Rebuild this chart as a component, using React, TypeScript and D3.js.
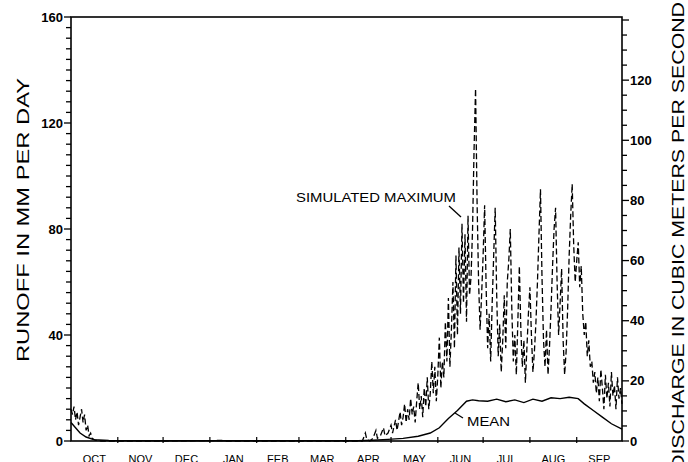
import React, { useEffect, useRef } from "react";
import * as d3 from "d3";

// water year, day index 0 = Oct 1
const months = ["OCT", "NOV", "DEC", "JAN", "FEB", "MAR", "APR", "MAY", "JUN", "JUL", "AUG", "SEP"];
const monthStarts = [0, 31, 61, 92, 123, 151, 182, 212, 243, 273, 304, 335, 365];

const leftTicks = [0, 40, 80, 120, 160];
const rightTicks = [0, 20, 40, 60, 80, 100, 120];

// mean daily runoff, mm/day  [day, value]
const meanSeries: [number, number][] = [
  [0, 7], [3, 5], [6, 3], [10, 1.5], [15, 0.5], [25, 0.2], [40, 0.1], [190, 0.1],
  [200, 0.3], [210, 0.6], [220, 1], [230, 1.8], [238, 3], [244, 5], [250, 8.5],
  [256, 11.5], [262, 15], [266, 15.5], [270, 15.2], [276, 15], [282, 15.8], [288, 14.8],
  [294, 15.5], [300, 14.5], [306, 15.8], [312, 15], [318, 16.3], [324, 16], [330, 16.5],
  [336, 16], [340, 14], [346, 11.5], [352, 9], [358, 6.5], [365, 4.5],
];

// simulated maximum daily runoff, mm/day  [day, value]
const maxSeries: [number, number][] = [
  [0, 12], [1, 10], [2, 13], [3, 8], [4, 11], [5, 6], [6, 9], [7, 12], [8, 7], [9, 10],
  [10, 4], [11, 6], [12, 2], [13, 3], [14, 1], [16, 0.3], [20, 0], [60, 0], [100, 0.2],
  [101, 0], [185, 0], [193, 0], [195, 3], [196, 0.5], [198, 0], [200, 1], [202, 4],
  [203, 1], [205, 2], [207, 5], [208, 2], [210, 3], [212, 6], [213, 3], [215, 8],
  [216, 4], [218, 11], [219, 6], [220, 9], [221, 14], [222, 7], [223, 12], [224, 8],
  [225, 16], [226, 10], [227, 13], [228, 7], [229, 15], [230, 22], [231, 12], [232, 17],
  [233, 9], [234, 20], [235, 13], [236, 24], [237, 12], [238, 18], [239, 30],
  [240, 18], [241, 28], [242, 15], [243, 25], [244, 39], [245, 20], [246, 30], [247, 24],
  [248, 45], [249, 30], [250, 54], [251, 28], [252, 42], [253, 60], [254, 35], [255, 70],
  [256, 40], [257, 73], [258, 48], [259, 82], [260, 52], [261, 78], [262, 45], [263, 85],
  [264, 55], [265, 62], [266, 80], [267, 110], [268, 133], [269, 90], [270, 60], [271, 42],
  [272, 55], [273, 70], [274, 89], [275, 58], [276, 35], [277, 48], [278, 30], [279, 52],
  [280, 70], [281, 88], [282, 55], [283, 32], [284, 44], [285, 26], [286, 38], [287, 55],
  [288, 35], [289, 60], [290, 68], [291, 80], [292, 50], [293, 30], [294, 40], [295, 25],
  [296, 45], [297, 66], [298, 42], [299, 28], [300, 38], [301, 22], [302, 35], [303, 48],
  [304, 58], [305, 40], [306, 26], [307, 34], [308, 45], [309, 60], [310, 78], [311, 95],
  [312, 62], [313, 38], [314, 28], [315, 42], [316, 25], [317, 36], [318, 50], [319, 66],
  [320, 80], [321, 88], [322, 60], [323, 40], [324, 52], [325, 65], [326, 38], [327, 25],
  [328, 34], [329, 50], [330, 70], [331, 85], [332, 97], [333, 74], [334, 60], [335, 68],
  [336, 75], [337, 58], [338, 66], [339, 48], [340, 40], [341, 45], [342, 32], [343, 38],
  [344, 28], [345, 30], [346, 22], [347, 26], [348, 18], [349, 24], [350, 15], [351, 27],
  [352, 20], [353, 12], [354, 25], [355, 16], [356, 22], [357, 13], [358, 26], [359, 17],
  [360, 21], [361, 12], [362, 24], [363, 16], [364, 20], [365, 14],
];

const W = 688;
const H = 462;

const App: React.FC = () => {
  const ref = useRef<SVGSVGElement | null>(null);

  useEffect(() => {
    const svg = d3.select(ref.current);
    svg.selectAll("*").remove();

    const x = d3.scaleLinear().domain([0, 365]).range([71, 622]);
    const yL = d3.scaleLinear().domain([0, 160]).range([441, 17]);
    const yR = d3.scaleLinear().domain([0, 141]).range([441, 17]);

    const numFont = "'Liberation Sans', Arial, sans-serif";

    // frame
    svg.append("rect")
      .attr("x", x(0)).attr("y", yL(160))
      .attr("width", x(365) - x(0)).attr("height", yL(0) - yL(160))
      .attr("fill", "none").attr("stroke", "#000").attr("stroke-width", 1.6);

    // left ticks
    const lg = svg.append("g");
    lg.selectAll("line")
      .data(d3.range(0, 161, 4))
      .enter().append("line")
      .attr("x1", x(0)).attr("x2", (d) => x(0) - (d % 40 === 0 ? 7 : 5))
      .attr("y1", (d) => yL(d)).attr("y2", (d) => yL(d))
      .attr("stroke", "#000").attr("stroke-width", 1.3);
    lg.selectAll("text")
      .data(leftTicks)
      .enter().append("text")
      .attr("x", x(0) - 8).attr("y", (d) => yL(d))
      .attr("dy", "0.35em").attr("text-anchor", "end")
      .style("font-family", numFont).style("font-weight", "bold").style("font-size", "13px")
      .text((d) => d);

    // right ticks
    const rg = svg.append("g");
    rg.selectAll("line")
      .data(d3.range(0, 141, 5))
      .enter().append("line")
      .attr("x1", x(365)).attr("x2", (d) => x(365) + (d % 20 === 0 ? 7 : 5))
      .attr("y1", (d) => yR(d)).attr("y2", (d) => yR(d))
      .attr("stroke", "#000").attr("stroke-width", 1.3);
    rg.selectAll("text")
      .data(rightTicks)
      .enter().append("text")
      .attr("x", x(365) + 8).attr("y", (d) => yR(d))
      .attr("dy", "0.35em").attr("text-anchor", "start")
      .style("font-family", numFont).style("font-weight", "bold").style("font-size", "13px")
      .text((d) => d);

    // bottom month ticks and labels
    const bg = svg.append("g");
    bg.selectAll("line")
      .data(monthStarts.slice(1, -1))
      .enter().append("line")
      .attr("x1", (d) => x(d)).attr("x2", (d) => x(d))
      .attr("y1", yL(0) - 4).attr("y2", yL(0) + 2)
      .attr("stroke", "#000").attr("stroke-width", 1.2);
    bg.selectAll("text")
      .data(months)
      .enter().append("text")
      .attr("x", (_, i) => (x(monthStarts[i]) + x(monthStarts[i + 1])) / 2)
      .attr("y", 463)
      .attr("text-anchor", "middle")
      .style("font-family", numFont).style("font-size", "11px")
      .text((d) => d);

    // series
    const line = d3.line<[number, number]>()
      .x((d) => x(d[0]))
      .y((d) => yL(d[1]));

    svg.append("path")
      .attr("d", line(maxSeries)!)
      .attr("fill", "none").attr("stroke", "#000")
      .attr("stroke-width", 1.3).attr("stroke-dasharray", "6,3");

    svg.append("path")
      .attr("d", line(meanSeries)!)
      .attr("fill", "none").attr("stroke", "#000")
      .attr("stroke-width", 1.4);

    // axis titles
    svg.append("text")
      .attr("transform", `translate(29,${(yL(0) + yL(160)) / 2 - 9}) rotate(-90)`)
      .attr("text-anchor", "middle")
      .attr("textLength", 284).attr("lengthAdjust", "spacingAndGlyphs")
      .style("font-family", numFont).style("font-size", "17px")
      .text("RUNOFF IN MM PER DAY");

    svg.append("text")
      .attr("transform", `translate(684,236) rotate(-90)`)
      .attr("text-anchor", "middle")
      .attr("textLength", 468).attr("lengthAdjust", "spacingAndGlyphs")
      .style("font-family", numFont).style("font-size", "17px")
      .text("DISCHARGE IN CUBIC METERS PER SECOND");

    // annotations
    svg.append("text")
      .attr("x", 296).attr("y", 202)
      .attr("textLength", 160).attr("lengthAdjust", "spacingAndGlyphs")
      .style("font-family", numFont).style("font-size", "13px")
      .text("SIMULATED MAXIMUM");
    svg.append("line")
      .attr("x1", 449).attr("y1", 206).attr("x2", 461).attr("y2", 217)
      .attr("stroke", "#000").attr("stroke-width", 1.3);

    svg.append("text")
      .attr("x", 467).attr("y", 426)
      .attr("textLength", 43).attr("lengthAdjust", "spacingAndGlyphs")
      .style("font-family", numFont).style("font-size", "13px")
      .text("MEAN");
    svg.append("line")
      .attr("x1", 455).attr("y1", 413).attr("x2", 463).attr("y2", 418)
      .attr("stroke", "#000").attr("stroke-width", 1.2);
  }, []);

  return (
    <svg
      ref={ref}
      width={W}
      height={H}
      style={{ position: "absolute", left: 0, top: 0, background: "#fff" }}
    />
  );
};

export default App;
